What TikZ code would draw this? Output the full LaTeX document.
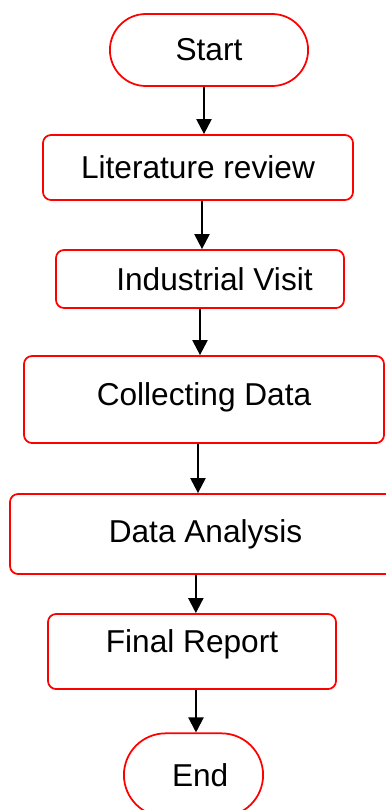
\documentclass[tikz,border=0pt]{standalone}
\usepackage{fontspec}
\setmainfont{Liberation Sans}
\usepackage{tikz}
\usetikzlibrary{arrows.meta,shapes.misc,positioning}

\begin{document}
\begin{tikzpicture}[>={Triangle[width=0.45cm,length=0.45cm]},
  every node/.style={font=\fontsize{27}{32}\selectfont},
  box/.style={draw=red, line width=1.5pt, rounded corners=0.24cm, align=center},
  term/.style={draw=red, line width=1.5pt, rounded rectangle},
  flow/.style={->, line width=1.8pt, black}]
  \useasboundingbox (0,0) rectangle (11.58,-24.3);
  \clip (0,0) rectangle (11.58,-24.3);

  % terminals and steps
  \node[term, minimum width=6.18cm, minimum height=2.16cm] (start) at (6.27,-1.5) {Start};
  \node[box, minimum width=9.3cm, minimum height=1.95cm] (lit) at (5.94,-5.025) {Literature review};
  \node[box, minimum width=8.64cm, minimum height=1.74cm] (ind) at (6.0,-8.37) {\hspace*{0.87cm}Industrial Visit};
  \node[box, minimum width=10.8cm, minimum height=2.61cm, text depth=0.35cm] (coll) at (6.12,-11.985) {Collecting Data};
  \node[box, minimum width=11.73cm, minimum height=2.4cm] (da) at (6.165,-16.02) {Data Analysis};
  \node[box, minimum width=8.64cm, minimum height=2.25cm, text depth=0.65cm] (fr) at (5.76,-19.545) {Final Report};
  \node[term, minimum width=4.41cm, minimum height=2.5cm] (end) at (5.805,-23.25) {\hspace*{0.4cm}End};

  % arrows
  \foreach \a/\b/\s in {start/lit/-0.15, lit/ind/0.12, ind/coll/0, coll/da/-0.18, da/fr/-0.29, fr/end/0.12} {
    \draw[flow] ([xshift=\s cm]\a.south) -- ([xshift=\s cm]\a.south |- \b.north);
  }
\end{tikzpicture}
\end{document}
